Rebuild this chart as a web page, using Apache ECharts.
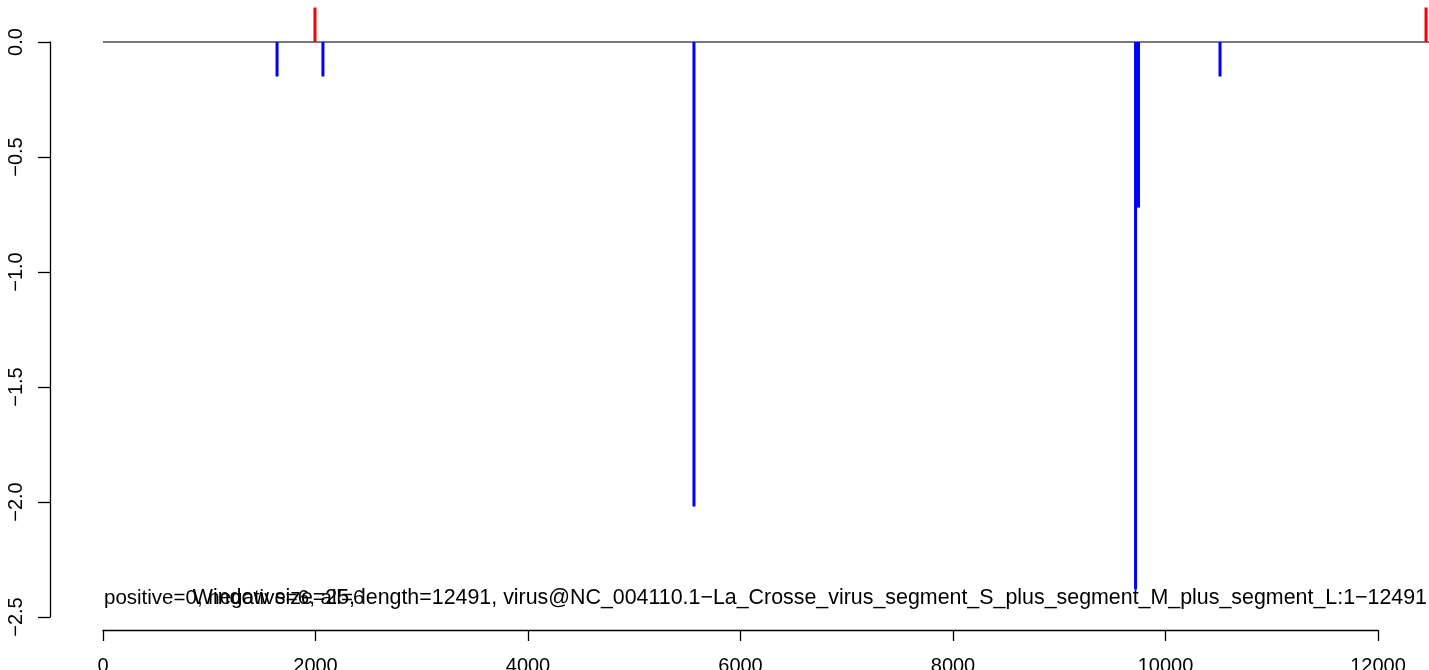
<!DOCTYPE html>
<html>
<head>
<meta charset="utf-8">
<script src="https://cdn.jsdelivr.net/npm/echarts@6/dist/echarts.min.js"></script>
<style>
html,body{margin:0;padding:0;background:#fff;}
#chart{width:1429px;height:670px;}
</style>
</head>
<body>
<div id="chart"></div>
<script>
// ---- data ----
const negPositions = [1638, 2070, 5562, 9718, 9746, 10513];
const negValues    = [-0.15, -0.15, -2.02, -2.38, -0.72, -0.15];
const posPositions = [1995, 12452];
const posValues    = [0.15, 0.15];
const genomeLength = 12491;
const xTickValues  = [0, 2000, 4000, 6000, 8000, 10000, 12000];
const xTickLabels  = ['0', '2000', '4000', '6000', '8000', '10000', '12000'];
const yTickValues  = [-2.5, -2.0, -1.5, -1.0, -0.5, 0.0];
const yTickLabels  = ['\u22122.5', '\u22122.0', '\u22121.5', '\u22121.0', '\u22120.5', '0.0'];
const countText    = 'positive=0, negative=6, all=6';
const infoText     = 'Window size=25, length=12491, virus@NC_004110.1\u2212La_Crosse_virus_segment_S_plus_segment_M_plus_segment_L:1\u221212491';

const FONT = '"Liberation Sans", Arial, Helvetica, sans-serif';
const chart = echarts.init(document.getElementById('chart'), null, {renderer: 'canvas'});

function lookup(vals, labels, v) {
  for (let i = 0; i < vals.length; i++) if (Math.abs(vals[i] - v) < 1e-9) return labels[i];
  return '';
}

chart.setOption({
  animation: false,
  backgroundColor: '#ffffff',
  grid: {left: 103, right: 51, top: 42, bottom: 53, containLabel: false, outerBoundsMode: 'none'},
  xAxis: {
    type: 'value', min: 0, max: 12000, interval: 2000,
    offset: 13,
    axisLine: {show: true, onZero: false, lineStyle: {color: '#000', width: 1.3}},
    axisTick: {show: true, length: 11, lineStyle: {color: '#000', width: 1.3}},
    axisLabel: {show: true, margin: 26, color: '#000', fontSize: 20, fontFamily: FONT,
      formatter: v => lookup(xTickValues, xTickLabels, v)},
    splitLine: {show: false}
  },
  yAxis: {
    type: 'value', min: -2.5, max: 0, interval: 0.5,
    offset: 53,
    axisLine: {show: true, onZero: false, lineStyle: {color: '#000', width: 1.3}},
    axisTick: {show: true, length: 12, lineStyle: {color: '#000', width: 1.3}},
    axisLabel: {show: true, rotate: 90, margin: 24, color: '#000', fontSize: 20, fontFamily: FONT,
      formatter: v => lookup(yTickValues, yTickLabels, v)},
    splitLine: {show: false}
  },
  series: [
    {
      type: 'custom', clip: false, silent: true, z: 1,
      data: [[0, 0, genomeLength, 0]],
      renderItem: function (params, api) {
        const p1 = api.coord([api.value(0), api.value(1)]);
        const p2 = api.coord([api.value(2), api.value(3)]);
        return {
          type: 'line',
          shape: {x1: p1[0], y1: p1[1], x2: p2[0], y2: p2[1]},
          style: {stroke: '#4d4d4d', lineWidth: 1.5}
        };
      }
    },
    {
      type: 'bar', clip: false, barWidth: 3, barGap: '-100%', z: 2,
      itemStyle: {color: '#0000ff'},
      data: negPositions.map((p, i) => [p, negValues[i]])
    },
    {
      type: 'bar', clip: false, barWidth: 3, barGap: '-100%', z: 2,
      itemStyle: {color: '#ff0000'},
      data: posPositions.map((p, i) => [p, posValues[i]])
    }
  ],
  graphic: [
    {type: 'text', left: 104, top: 588, z: 10,
      style: {text: countText, font: '20.5px ' + FONT, fill: '#000'}},
    {type: 'text', right: 2, top: 588, z: 10,
      style: {text: infoText, font: '21.4px ' + FONT, fill: '#000'}}
  ]
});
</script>
</body>
</html>
